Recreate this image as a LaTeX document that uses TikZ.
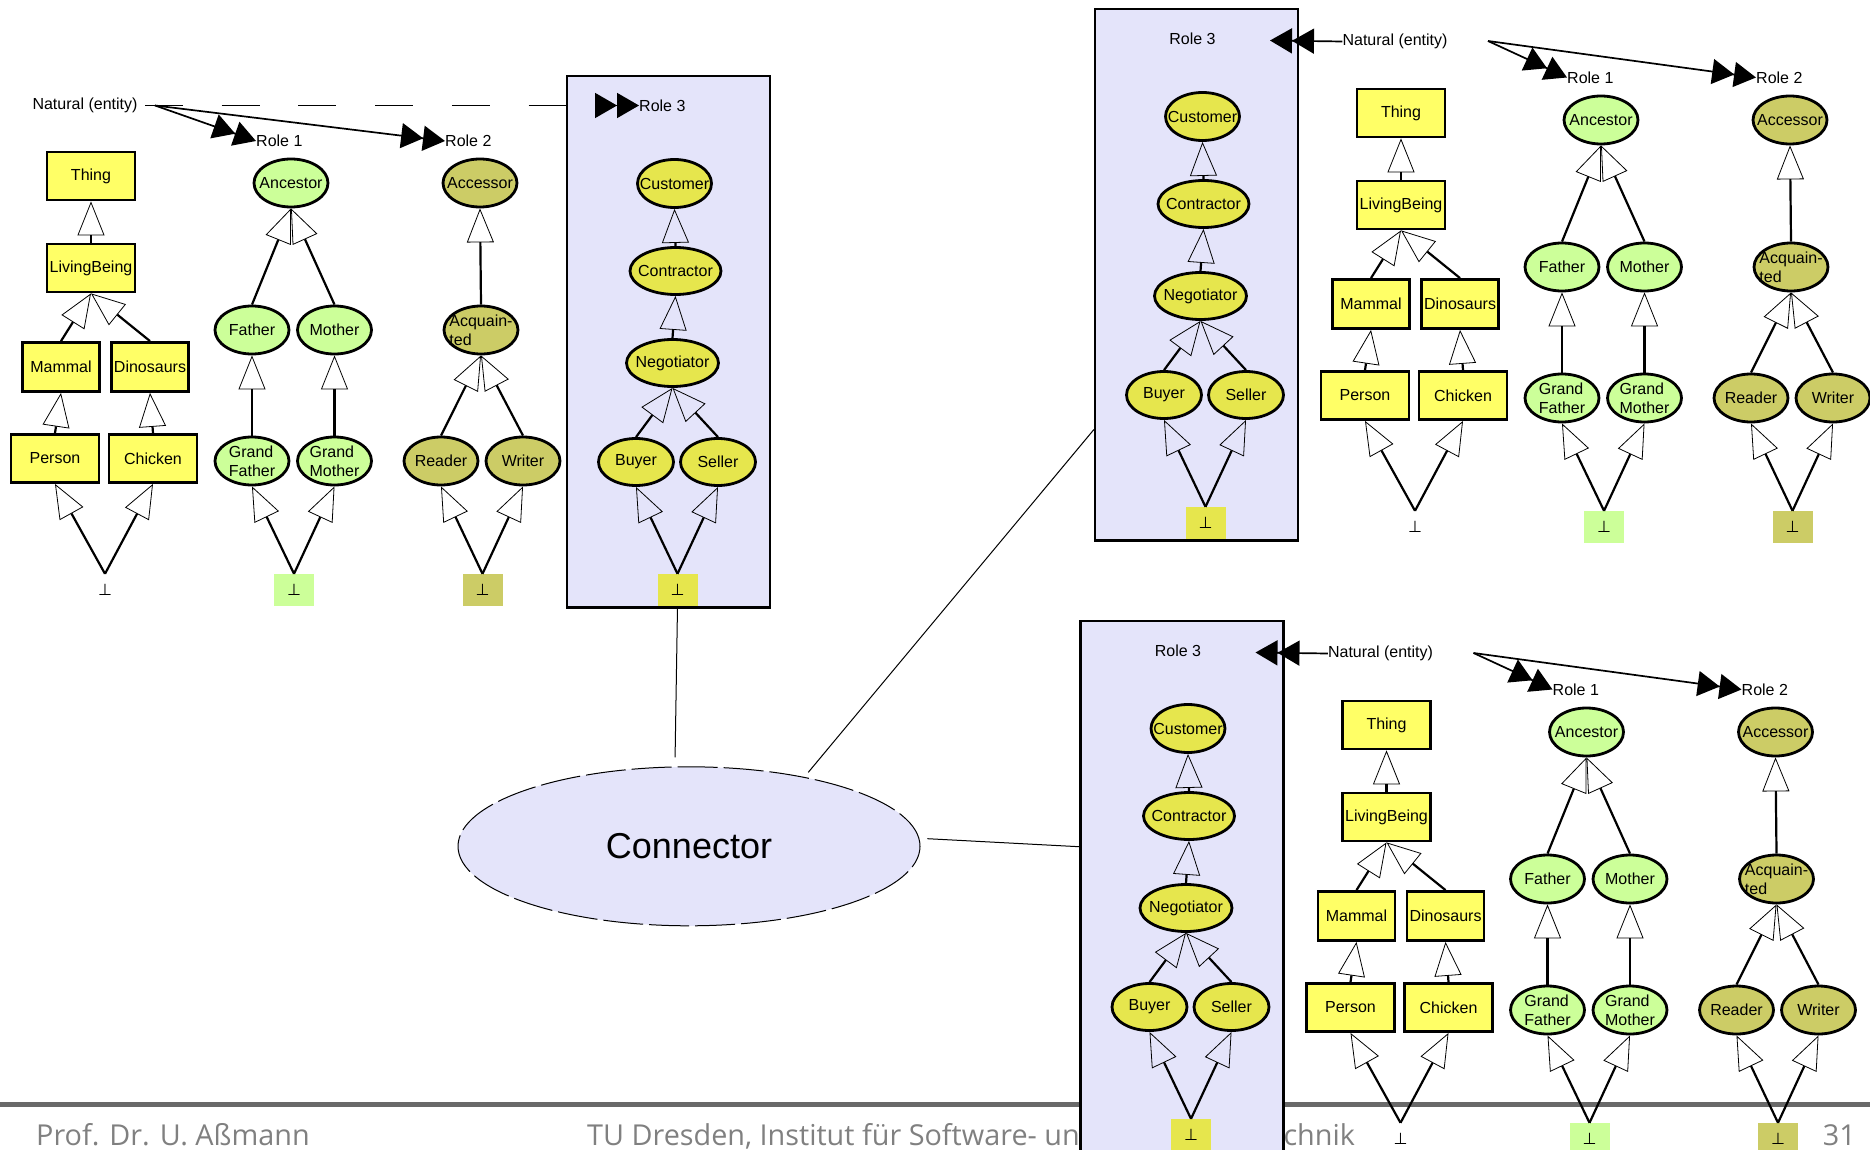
\documentclass[tikz,border=0pt]{standalone}
\usepackage{fontspec}
\setmainfont{Liberation Sans}
\newfontfamily\footfont{Open Sans}
\newfontfamily\botfont{DejaVu Sans}
\usetikzlibrary{shapes.geometric,arrows.meta,calc}
\definecolor{boxyel}{RGB}{255,255,102}
\definecolor{rgreen}{RGB}{204,255,153}
\definecolor{rolive}{RGB}{204,204,102}
\definecolor{ryel}{RGB}{230,230,77}
\definecolor{lav}{RGB}{228,228,250}
\definecolor{footgray}{RGB}{128,128,128}
\definecolor{footline}{RGB}{105,105,105}
\newcommand{\MyNodeFont}{\fontsize{16}{19}\selectfont}
\newcommand{\BotSym}{{\botfont\fontsize{16}{19}\selectfont ⊥}}
\tikzset{
  basen/.style={font=\MyNodeFont, inner sep=0pt, text=black},
  boxn/.style={basen, draw, line width=2.8pt, fill=boxyel, minimum width=88, minimum height=48},
  elln/.style={basen, ellipse, draw, line width=2.8pt, inner xsep=-22pt, inner ysep=-4pt, minimum width=74, minimum height=48},
  grn/.style={elln, fill=rgreen},
  olv/.style={elln, fill=rolive},
  ylw/.style={elln, fill=ryel},
  botn/.style={basen, minimum width=40, minimum height=32},
  lbl/.style={basen},
  r3box/.style={draw, line width=2.2pt, fill=lav, minimum width=203, minimum height=531.5, inner sep=0pt},
  inh/.style={line width=2.2pt, -{Triangle[open, length=34pt, width=27pt, line width=0.8pt]}},
  dbl/.style={line width=1.7pt, -{Triangle[length=22pt, width=25pt, sep=0pt] Triangle[length=22pt, width=25pt, sep=0pt]}},
  dashline/.style={line width=1.8pt, dash pattern=on 38pt off 38.7pt},
  conline/.style={line width=1pt},
  foot/.style={inner sep=0pt, text=footgray, font=\footfont\fontsize{28.8}{32}\selectfont},
}
\newcommand{\ThingTree}[2]{%
\begin{scope}[shift={#2}]
\node[boxn] (#1thing) at (0,0) {Thing};
\node[boxn] (#1lb) at (0,92) {LivingBeing};
\node[boxn, minimum width=77, minimum height=49] (#1mam) at (-30,191) {Mammal};
\node[boxn, minimum width=77, minimum height=49] (#1dino) at (59,191) {Dinosaurs};
\node[boxn] (#1pers) at (-36,282.5) {Person};
\node[boxn] (#1chick) at (62,282.5) {Chicken};
\node[botn] (#1bot) at (14,414) {\BotSym};
\draw[inh] (#1lb.north) -- (#1thing.south);
\draw[inh] (#1mam.north) -- (#1lb.south);
\draw[inh] (#1dino.north) -- (#1lb.south);
\draw[inh] (#1pers.north) -- (#1mam.south);
\draw[inh] (#1chick.north) -- (#1dino.south);
\draw[inh] (#1bot.north) -- (#1pers.south);
\draw[inh] (#1bot.north) -- (#1chick.south);
\end{scope}}
\newcommand{\RoleOneTree}[2]{%
\begin{scope}[shift={#2}]
\node[grn] (#1anc) at (0,0) {Ancestor};
\node[grn] (#1fat) at (-39,147) {Father};
\node[grn] (#1mot) at (43.5,147) {Mother};
\node[grn, align=left] (#1gf) at (-39,278) {Grand\\Father};
\node[grn, align=left] (#1gm) at (43.5,278) {Grand\\Mother};
\node[botn, fill=rgreen] (#1bot) at (3,407) {\BotSym};
\draw[inh] (#1fat.north) -- (#1anc.south);
\draw[inh] (#1mot.north) -- (#1anc.south);
\draw[inh] (#1gf.north) -- (#1fat.south);
\draw[inh] (#1gm.north) -- (#1mot.south);
\draw[inh] (#1bot.north) -- (#1gf.south);
\draw[inh] (#1bot.north) -- (#1gm.south);
\end{scope}}
\newcommand{\RoleTwoTree}[2]{%
\begin{scope}[shift={#2}]
\node[olv] (#1acc) at (0,0) {Accessor};
\node[olv, align=left] (#1acq) at (1,147) {Acquain-\\ted};
\node[olv] (#1rea) at (-39,278) {Reader};
\node[olv] (#1wri) at (43,278) {Writer};
\node[botn, fill=rolive] (#1bot) at (2.5,407) {\BotSym};
\draw[inh] (#1acq.north) -- (#1acc.south);
\draw[inh] (#1rea.north) -- (#1acq.south);
\draw[inh] (#1wri.north) -- (#1acq.south);
\draw[inh] (#1bot.north) -- (#1rea.south);
\draw[inh] (#1bot.north) -- (#1wri.south);
\end{scope}}
\newcommand{\RoleThreeTree}[2]{%
\begin{scope}[shift={#2}]
\node[ylw] (#1cus) at (0,0) {Customer};
\node[ylw, minimum width=91, minimum height=47] (#1con) at (1,87.5) {Contractor};
\node[ylw, minimum width=92, minimum height=47] (#1neg) at (-2,179.5) {Negotiator};
\node[ylw, minimum width=75, minimum height=47] (#1buy) at (-38.5,278.5) {Buyer};
\node[ylw, minimum width=75, minimum height=47] (#1sel) at (43.5,278.5) {Seller};
\node[botn, fill=ryel] (#1bot) at (3,406.5) {\BotSym};
\draw[inh] (#1con.north) -- (#1cus.south);
\draw[inh] (#1neg.north) -- (#1con.south);
\draw[inh] (#1buy.north) -- (#1neg.south);
\draw[inh] (#1sel.north) -- (#1neg.south);
\draw[inh] (#1bot.north) -- (#1buy.south);
\draw[inh] (#1bot.north) -- (#1sel.south);
\end{scope}}
\newcommand{\RightCluster}[2]{%
\begin{scope}[shift={#2}]
\node[r3box] (#1box) at (1196.5,274.75) {};
\RoleThreeTree{#1r3}{(1202.5,116.5)}
\ThingTree{#1t}{(1401,113)}
\RoleOneTree{#1r1}{(1601,120)}
\RoleTwoTree{#1r2}{(1790,120)}
\node[lbl] (#1r3lbl) at (1192.5,38.6) {Role 3};
\node[lbl] (#1nat) at (1395,41.5) {Natural (entity)};
\coordinate (#1r3tip) at (1270,40.5);
\coordinate (#1fork) at (1488,41);
\node[lbl, anchor=west] (#1role1) at (1567,77.5) {Role 1};
\node[lbl, anchor=west] (#1role2) at (1756,77.5) {Role 2};
\draw[dbl] (#1nat.west) -- (#1r3tip);
\draw[dbl] (#1fork) -- (#1role1.west);
\draw[dbl] (#1fork) -- (#1role2.west);
\end{scope}}
\begin{document}
\begin{tikzpicture}[x=1pt,y=-1pt]
\useasboundingbox (0,0) rectangle (1870,1150);
% footer
\fill[footline] (0,1102) rectangle (1870,1107);
\node[foot, anchor=base west] (fprof) at (36,1145) {Prof. Dr. U. Aßmann};
\node[foot, anchor=base west] (ftu) at (587,1145) {TU Dresden, Institut für Software- und Multimediatechnik};
\node[foot, anchor=base east] (fpage) at (1856,1145) {31};
% left cluster
\node[r3box] (Lbox) at (668.5,341.75) {};
\RoleThreeTree{Lr3}{(674.5,183.5)}
\ThingTree{Lt}{(91,176)}
\RoleOneTree{Lr1}{(291,183)}
\RoleTwoTree{Lr2}{(480,183)}
\node[lbl] (Lnat) at (85,105.5) {Natural (entity)};
\coordinate (Lnatout) at (145,105.5);
\coordinate (Lfork) at (155,105.5);
\node[lbl, anchor=west] (Lrole1) at (256,141) {Role 1};
\node[lbl, anchor=west] (Lrole2) at (445,141) {Role 2};
\node[lbl, anchor=west] (Lrole3) at (639,105.5) {Role 3};
\coordinate (Lr3tail) at (595,105.5);
\draw[dashline] (Lnatout) -- (Lbox.west |- Lnatout);
\draw[dbl] (Lfork) -- (Lrole1.west);
\draw[dbl] (Lfork) -- (Lrole2.west);
\draw[dbl] (Lr3tail) -- (Lrole3.west);
% right clusters
\RightCluster{T}{(0,0)}
\RightCluster{B}{(-14.5,612)}
% connector
\node[ellipse, draw, fill=lav, line width=1pt, dash pattern=on 40pt off 6pt, minimum width=462, minimum height=159, inner sep=0pt, font=\fontsize{36}{40}\selectfont] (conn) at (689,846.3) {Connector};
\draw[conline, shorten >=9pt] (Lr3bot.south) -- (conn.100);
\draw[conline, shorten <=6pt] (conn.31) -- ($(Tbox.south west)!0.21!(Tbox.north west)$);
\draw[conline, shorten <=8pt] (conn.2) -- ($(Bbox.south west)!0.575!(Bbox.north west)$);
\end{tikzpicture}
\end{document}
